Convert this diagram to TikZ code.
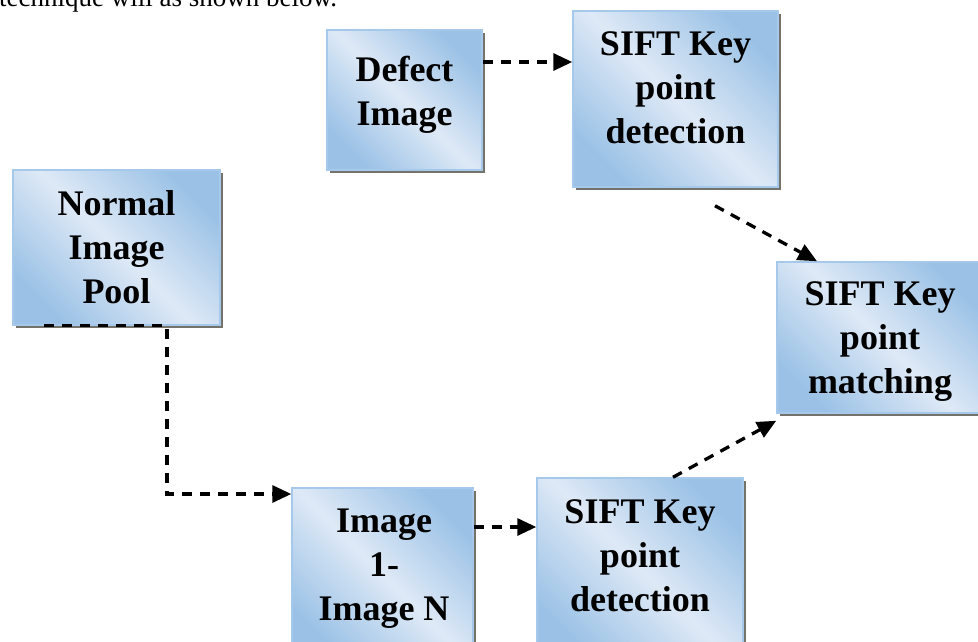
\documentclass[tikz,border=0pt]{standalone}
\usepackage{fontspec}
\setmainfont{Liberation Serif}
\usetikzlibrary{arrows.meta, shadows}

\definecolor{boxdark}{RGB}{155,194,230}
\definecolor{boxlight}{RGB}{222,233,246}
\definecolor{boxline}{RGB}{165,200,235}
\definecolor{shadowgray}{RGB}{115,115,108}

\begin{document}
\begin{tikzpicture}[x=1pt, y=-1pt,
    box/.style={draw=boxline, line width=1.5pt, top color=boxdark, bottom color=boxdark,
        middle color=boxlight, shading angle=-45,
        drop shadow={shadow xshift=3pt, shadow yshift=-3pt, fill=shadowgray, opacity=1}},
    boxtext/.style={font=\fontsize{36}{44}\selectfont\bfseries, align=center, inner sep=0pt},
    flow/.style={line width=3.3pt, dash pattern=on 10pt off 8pt,
        -{Triangle[length=19pt,width=17pt]}}]
    \useasboundingbox (0,0) rectangle (978,641);
    \clip (0,0) rectangle (978,641);

    % line of text cut off by the top edge
    \node[anchor=base west, font=\fontsize{27}{30}\selectfont, inner sep=0pt] (intro) at (-1,6) {technique will as shown below.};

    \node[box, minimum width=155pt, minimum height=140pt] (defect) at (404.5,100) {};
    \node[boxtext] (defect-text) at (404.5,94.75) {Defect\\Image};
    \node[box, minimum width=205pt, minimum height=176pt] (sifttop) at (675.5,99) {};
    \node[boxtext] (sifttop-text) at (675.5,87.75) {SIFT Key\\point\\detection};
    \node[box, minimum width=207pt, minimum height=155pt] (pool) at (116.5,247.5) {};
    \node[boxtext] (pool-text) at (116.5,246.75) {Normal\\Image\\Pool};
    \node[box, minimum width=206pt, minimum height=151pt] (match) at (880,337.5) {};
    \node[boxtext] (match-text) at (880,341.75) {SIFT Key\\point\\matching};
    \node[box, minimum width=181pt, minimum height=172pt] (image) at (382.5,574) {};
    \node[boxtext] (image-text) at (384,568.75) {Image\\1-\\Image N};
    \node[box, minimum width=206pt, minimum height=182pt] (siftbot) at (640,569) {};
    \node[boxtext] (siftbot-text) at (640,555.75) {SIFT Key\\point\\detection};

    \draw[flow] ([yshift=38pt]defect.east) -- ([yshift=37pt]sifttop.west);
    \draw[flow] ([shift={(39.5pt,-18pt)}]sifttop.south) -- ([xshift=-63pt]match.north);
    \draw[flow] ([xshift=32pt]pool.south west) -- ([xshift=50.5pt]pool.south) |- ([yshift=80pt]image.west);
    \draw[flow] ([yshift=47pt]image.east) -- ([yshift=42pt]siftbot.west);
    \draw[flow] ([xshift=33pt]siftbot.north) -- ([yshift=-7pt]match.south west);

\end{tikzpicture}
\end{document}
